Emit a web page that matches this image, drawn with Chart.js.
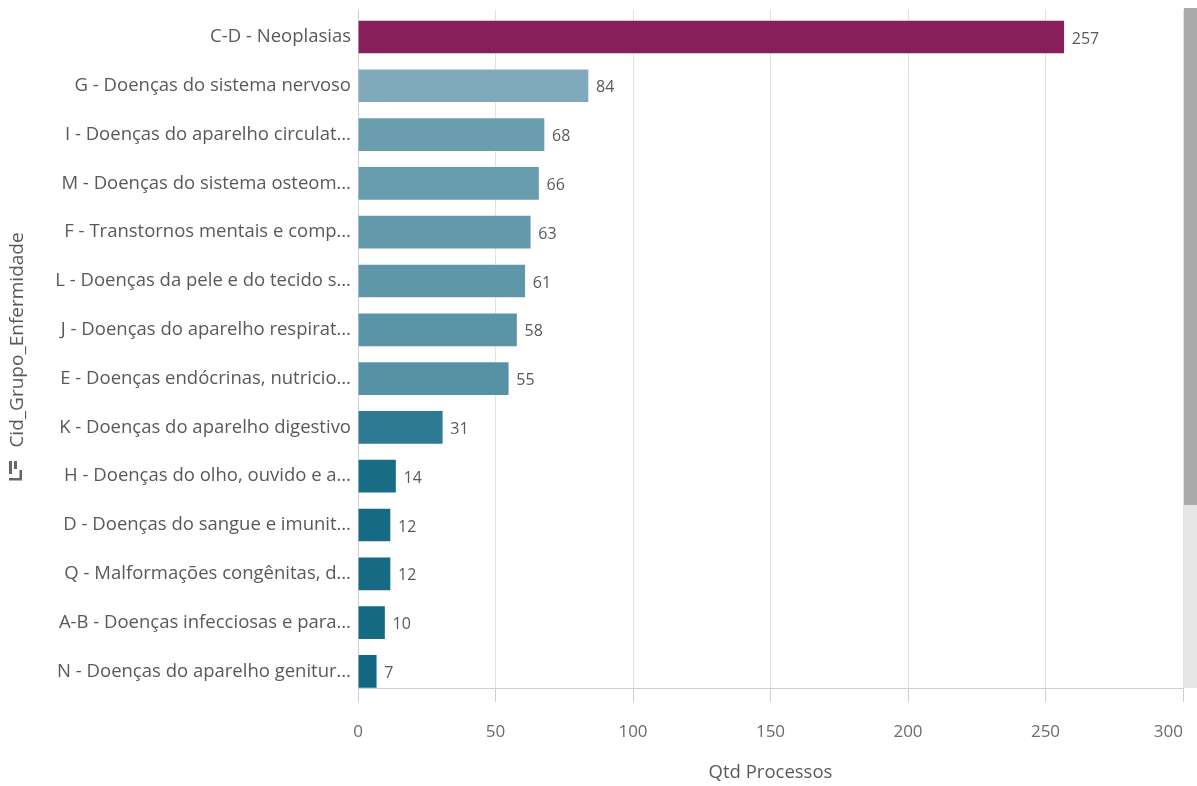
<!DOCTYPE html>
<html><head><meta charset="utf-8">
<script src="https://cdn.jsdelivr.net/npm/chart.js@4"></script>
<style>
html,body{margin:0;padding:0;background:#fff;overflow:hidden}
#wrap{position:relative;width:1197px;height:786px}
#c{position:absolute;left:0;top:0}
.track{position:absolute;left:1184px;top:8px;width:13px;height:680px;background:#e6e6e6}
.thumb{position:absolute;left:1184px;top:8px;width:13px;height:497px;background:#ababab}
</style></head><body>
<div id="wrap"><canvas id="c" width="1197" height="786"></canvas><div class="track"></div><div class="thumb"></div></div>
<script>
const categories = [
  "C-D - Neoplasias",
  "G - Doenças do sistema nervoso",
  "I - Doenças do aparelho circulat…",
  "M - Doenças do sistema osteom…",
  "F - Transtornos mentais e comp…",
  "L - Doenças da pele e do tecido s…",
  "J - Doenças do aparelho respirat…",
  "E - Doenças endócrinas, nutricio…",
  "K - Doenças do aparelho digestivo",
  "H - Doenças do olho, ouvido e a…",
  "D - Doenças do sangue e imunit…",
  "Q - Malformações congênitas, d…",
  "A-B - Doenças infecciosas e para…",
  "N - Doenças do aparelho genitur…"
];
const values = [257, 84, 68, 66, 63, 61, 58, 55, 31, 14, 12, 12, 10, 7];
const barColors = ["#881e5b","#80aabb","#6a9eaf","#679cae","#6399ab","#5f97a9","#5a94a7","#5692a5","#2d7a92","#196c85","#176a84","#176a84","#156983","#126882"];
const xTickValues = [0, 50, 100, 150, 200, 250, 300];
const xTitle = "Qtd Processos";
const yTitle = "Cid_Grupo_Enfermidade";

const FONT = "'Source Sans Pro', 'Open Sans', sans-serif";
const Y_MIN = -0.553, Y_MAX = 13.34;

const valueLabels = {
  id: 'valueLabels',
  afterDatasetsDraw(chart) {
    const ctx = chart.ctx;
    const meta = chart.getDatasetMeta(0);
    ctx.save();
    ctx.font = "16px " + FONT;
    ctx.fillStyle = "#595959";
    ctx.textAlign = "left";
    ctx.textBaseline = "middle";
    meta.data.forEach((el, i) => {
      ctx.fillText(String(values[i]), el.x + 7, el.y + 2);
    });
    ctx.restore();
  }
};

const yAxisTitle = {
  id: 'yAxisTitle',
  afterDraw(chart) {
    const ctx = chart.ctx;
    ctx.save();
    ctx.translate(18, 340);
    ctx.rotate(-Math.PI / 2);
    ctx.font = "19px " + FONT;
    ctx.fillStyle = "#595959";
    ctx.textAlign = "center";
    ctx.textBaseline = "middle";
    ctx.fillText(yTitle, 0, 0);
    ctx.restore();
    // field icon
    ctx.save();
    ctx.fillStyle = "#666";
    ctx.fillRect(9, 461, 3, 13);
    ctx.fillRect(14, 461, 3, 8);
    ctx.fillRect(9, 478, 13, 2.5);
    ctx.fillRect(19.5, 470, 2.5, 10);
    ctx.restore();
  }
};

new Chart(document.getElementById('c'), {
  type: 'bar',
  data: {
    datasets: [{
      data: values.map((v, i) => ({ x: v, y: i })),
      backgroundColor: barColors,
      borderColor: "rgba(255,255,255,0.25)",
      borderWidth: 1,
      barThickness: 34
    }]
  },
  options: {
    indexAxis: 'y',
    responsive: false,
    animation: false,
    layout: { padding: { top: 10, right: 14, left: 0, bottom: 0 } },
    plugins: { legend: { display: false }, tooltip: { enabled: false } },
    scales: {
      x: {
        type: 'linear',
        min: 0, max: 300,
        afterBuildTicks(scale) { scale.ticks = xTickValues.map(v => ({ value: v })); },
        afterFit(scale) { scale.height = 98; scale.paddingRight = 0; scale.paddingLeft = 0; },
        grid: { color: "#e2e2e2", tickLength: 14, tickColor: "#d0d0d0" },
        border: { color: "#d0d0d0" },
        ticks: {
          font: { family: FONT, size: 17 }, color: "#6b6b6b", padding: 20,
          callback: (v) => v === 300 ? "300\u2007\u2007\u2007" : String(v)
        },
        title: { display: true, text: xTitle, font: { family: FONT, size: 18.5 }, color: "#595959", padding: { top: 0, bottom: 2 } }
      },
      y: {
        type: 'linear',
        reverse: true,
        offset: false,
        bounds: 'data',
        min: Y_MIN, max: Y_MAX,
        afterDataLimits(scale) { scale.min = Y_MIN; scale.max = Y_MAX; },
        afterBuildTicks(scale) {
          scale.ticks = categories.map((_, i) => ({ value: i }));
          scale.min = Y_MIN; scale.max = Y_MAX;
        },
        afterFit(scale) { scale.width = 358; scale.paddingTop = 0; scale.paddingBottom = 0; },
        grid: { display: false, drawTicks: false },
        border: { color: "#d0d0d0" },
        ticks: {
          font: { family: FONT, size: 18.5 }, color: "#595959", padding: 7,
          callback: (v) => categories[Math.round(v)]
        }
      }
    }
  },
  plugins: [valueLabels, yAxisTitle]
});
</script>
</body></html>
